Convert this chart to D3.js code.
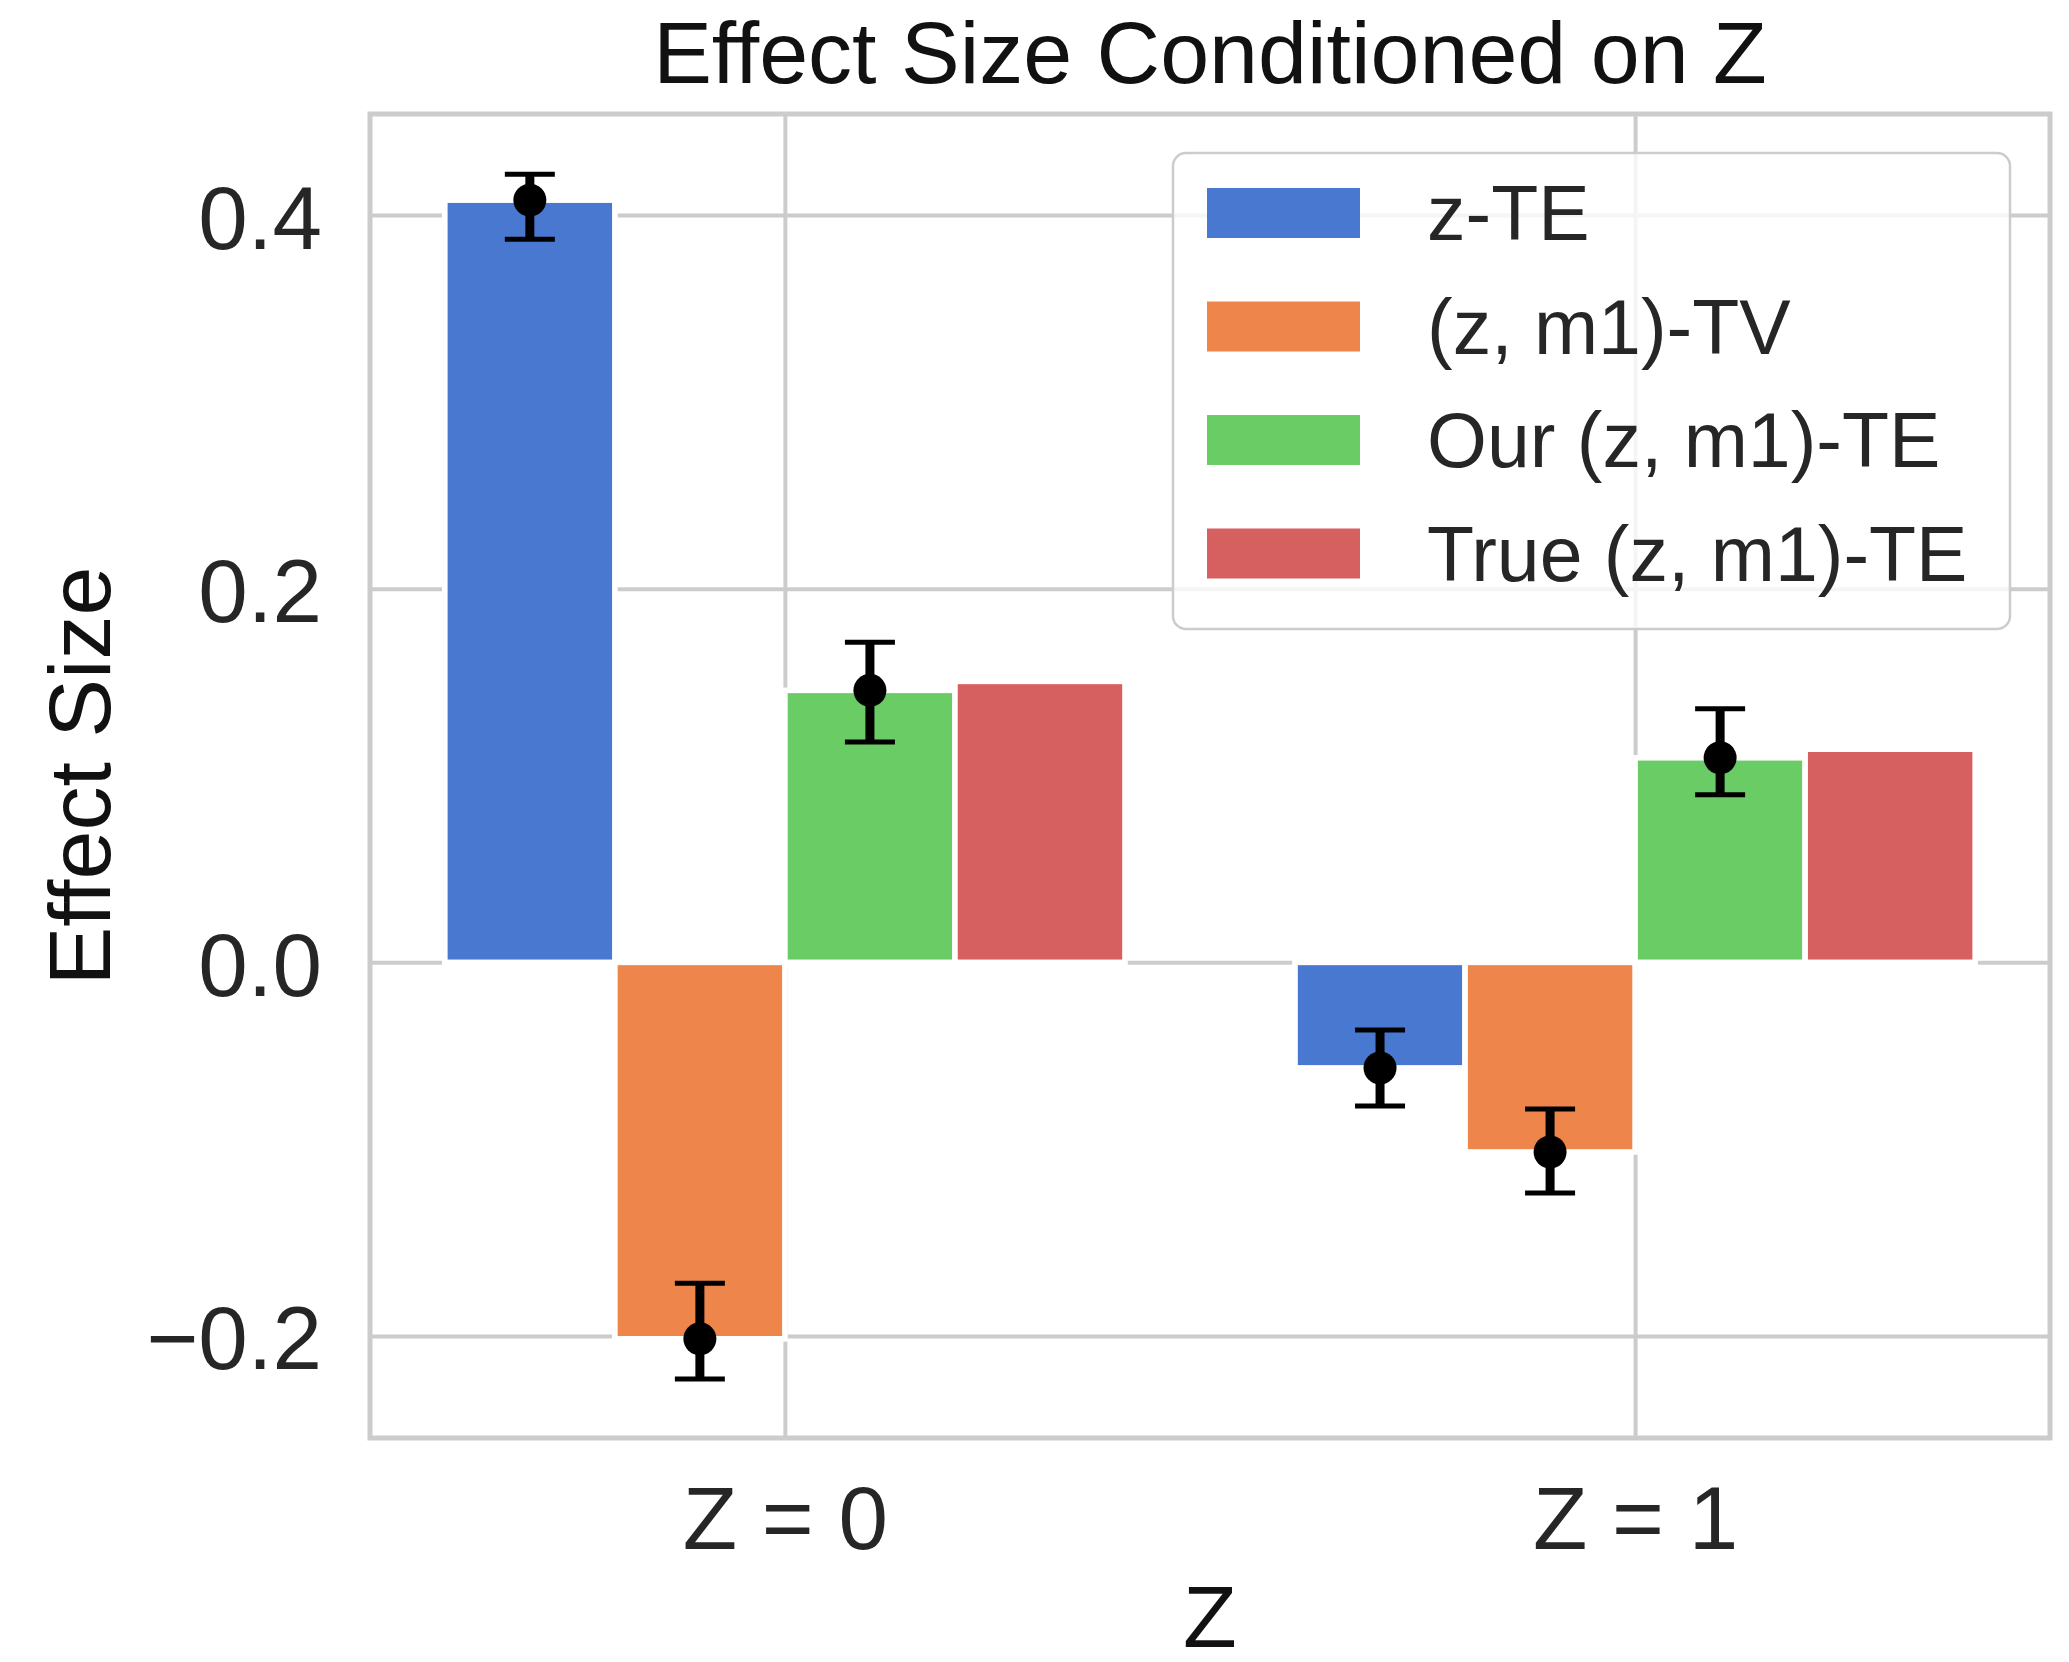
<!DOCTYPE html>
<html>
<head>
<meta charset="utf-8">
<script src="https://cdn.jsdelivr.net/npm/d3@7"></script>
<style>
  html, body { margin:0; padding:0; background:#fff; }
  text { font-family: "Liberation Sans", Arial, sans-serif; }
</style>
</head>
<body>
<svg id="chart"></svg>
<script>
const W = 2069, H = 1662;

// data
const categories = ['Z = 0', 'Z = 1'];
const series = ['z-TE', '(z, m1)-TV', 'Our (z, m1)-TE', 'True (z, m1)-TE'];
const colors = ['#4878d0', '#ee854a', '#6acc64', '#d65f5f'];
const values = [
  [0.408, -0.0565],   // z-TE
  [-0.2015, -0.1015], // (z, m1)-TV
  [0.1456, 0.1095],   // Our (z, m1)-TE
  [0.1504, 0.1141],   // True (z, m1)-TE
];
const ciLow = [
  [0.387, -0.0769],
  [-0.223, -0.1235],
  [0.1179, 0.0897],
  null,
];
const ciHigh = [
  [0.4219, -0.0362],
  [-0.1717, -0.0785],
  [0.1714, 0.1357],
  null,
];
const yTicks = [-0.2, 0.0, 0.2, 0.4];

const M = {l:370, t:114, r:19, b:224};
const pw = W - M.l - M.r, ph = H - M.t - M.b;

const svg = d3.select('#chart').attr('width', W).attr('height', H);
const g = svg.append('g').attr('transform', `translate(${M.l},${M.t})`);

const x = d3.scaleLinear().domain([-0.488, 1.488]).range([0, pw]);
const y = d3.scaleLinear().domain([-0.2546, 0.4541]).range([ph, 0]);
const bw = 0.2; // bar width in category units

// grid
const gx = g.append('g').attr('transform', `translate(0,${ph})`)
  .call(d3.axisBottom(x).tickValues([0,1]).tickSize(-ph).tickFormat(''));
const gy = g.append('g')
  .call(d3.axisLeft(y).tickValues(yTicks).tickSize(-pw).tickFormat(''));
[gx, gy].forEach(a => {
  a.select('.domain').remove();
  a.selectAll('line').attr('stroke', '#cccccc').attr('stroke-width', 4);
});

// bars
series.forEach((s, i) => {
  g.append('g').selectAll('rect').data(values[i]).join('rect')
    .attr('x', (d, j) => x(j + (i - 2) * bw))
    .attr('width', x(bw) - x(0))
    .attr('y', d => y(Math.max(0, d)))
    .attr('height', d => Math.abs(y(d) - y(0)))
    .attr('fill', colors[i])
    .attr('stroke', '#fff').attr('stroke-width', 5.6);
});

// error bars
const capW = 50;
series.forEach((s, i) => {
  if (!ciLow[i]) return;
  const eg = g.append('g');
  values[i].forEach((v, j) => {
    const cx = x(j + (i - 1.5) * bw);
    eg.append('line').attr('x1', cx).attr('x2', cx)
      .attr('y1', y(ciLow[i][j])).attr('y2', y(ciHigh[i][j]))
      .attr('stroke', '#000').attr('stroke-width', 9);
    [ciLow[i][j], ciHigh[i][j]].forEach(c => {
      eg.append('line').attr('x1', cx - capW/2).attr('x2', cx + capW/2)
        .attr('y1', y(c)).attr('y2', y(c))
        .attr('stroke', '#000').attr('stroke-width', 5);
    });
    eg.append('circle').attr('cx', cx).attr('cy', y(v)).attr('r', 16.5).attr('fill', '#000');
  });
});

// spines
g.append('rect').attr('width', pw).attr('height', ph)
  .attr('fill', 'none').attr('stroke', '#cccccc').attr('stroke-width', 5);

// tick labels
const ax = g.append('g').attr('transform', `translate(0,${ph})`)
  .call(d3.axisBottom(x).tickValues([0,1]).tickSize(0).tickPadding(0)
    .tickFormat(i => categories[i]));
ax.selectAll('text').attr('dy', null).attr('y', 111);
const ay = g.append('g')
  .call(d3.axisLeft(y).tickValues(yTicks).tickSize(0).tickPadding(48)
    .tickFormat(d3.format('.1f')));
ay.selectAll('text').attr('dy', '0.37em');
[ax, ay].forEach(a => {
  a.select('.domain').remove();
  a.selectAll('text').attr('font-size', 89).attr('fill', '#262626')
    .attr('font-family', '"Liberation Sans", Arial, sans-serif');
});

// labels
svg.append('text').attr('x', M.l + pw/2).attr('y', 83).attr('text-anchor', 'middle')
  .attr('font-size', 88).attr('fill', '#111').text('Effect Size Conditioned on Z');
svg.append('text').attr('x', M.l + pw/2).attr('y', 1647).attr('text-anchor', 'middle')
  .attr('font-size', 88).attr('fill', '#111').text('Z');
svg.append('text').attr('transform', `translate(110,${M.t + ph/2}) rotate(-90)`)
  .attr('text-anchor', 'middle').attr('font-size', 88).attr('fill', '#111').text('Effect Size');

// legend
const lg = g.append('g').attr('transform', `translate(${pw - 40 - 837},39)`);
lg.append('rect').attr('width', 837).attr('height', 476).attr('rx', 13)
  .attr('fill', '#fff').attr('fill-opacity', 0.8)
  .attr('stroke', '#cccccc').attr('stroke-width', 2.5);
series.forEach((s, i) => {
  const cy = 60 + i * 113.5;
  lg.append('rect').attr('x', 34).attr('y', cy - 25).attr('width', 153).attr('height', 50)
    .attr('fill', colors[i]);
  lg.append('text').attr('x', 254).attr('y', cy + 27)
    .attr('font-size', 77).attr('fill', '#262626').text(s);
});
</script>
</body>
</html>
